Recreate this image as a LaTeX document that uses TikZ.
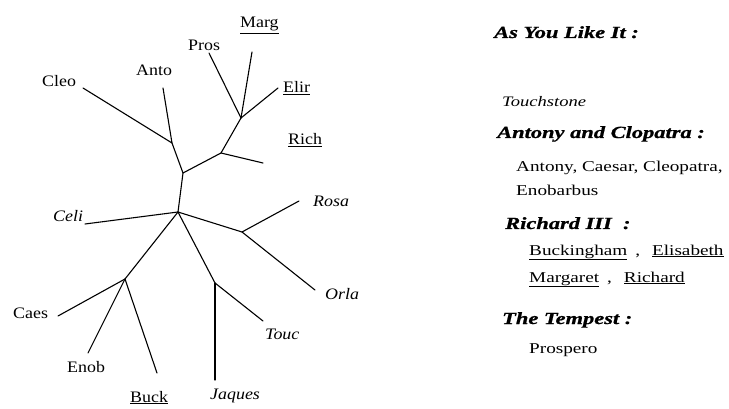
\documentclass[tikz,border=0pt]{standalone}
\usepackage{fontspec}
\setmainfont{Liberation Serif}
\newfontfamily\treefont[FakeStretch=1.12]{Liberation Serif}
\newfontfamily\widefont[FakeStretch=1.28]{Liberation Serif}
\newfontfamily\headfont[FakeStretch=1.32,FakeBold=1]{Liberation Serif}
\begin{document}
\begin{tikzpicture}[x=1pt,y=-1pt,
  lbl/.style={anchor=base west, inner sep=0pt, font=\treefont\fontsize{16}{18}\selectfont},
  ilbl/.style={anchor=base west, inner sep=0pt, font=\treefont\fontsize{16}{18}\selectfont\itshape},
  edge/.style={line width=1.1pt, line cap=round},
  head/.style={anchor=base west, inner sep=0pt, font=\headfont\fontsize{17}{20}\selectfont\bfseries\itshape},
  body/.style={anchor=base west, inner sep=0pt, font=\widefont\fontsize{15}{18}\selectfont},
  ibody/.style={anchor=base west, inner sep=0pt, font=\widefont\fontsize{14.5}{18}\selectfont\itshape}]
\useasboundingbox (0,0) rectangle (729,409);

% internal nodes
\coordinate (A) at (172,143);
\coordinate (B) at (183,173);
\coordinate (C) at (221,153);
\coordinate (D) at (241,118);
\coordinate (E) at (178,212);
\coordinate (F) at (242,232);
\coordinate (G) at (215,283);
\coordinate (H) at (125,279);
% leaf ends
\coordinate (cleo) at (83,88);
\coordinate (anto) at (163,88);
\coordinate (rich) at (263,163);
\coordinate (pros) at (209,53);
\coordinate (marg) at (252,52);
\coordinate (elir) at (278,88);
\coordinate (celi) at (85,224);
\coordinate (rosa) at (299,201);
\coordinate (orla) at (315,290);
\coordinate (touc) at (263,321);
\coordinate (jaq) at (215,380);
\coordinate (caes) at (58,316);
\coordinate (enob) at (88,353);
\coordinate (buck) at (157,373);

\draw[edge] (cleo) -- (A) -- (B);
\draw[edge] (anto) -- (A);
\draw[edge] (B) -- (C) -- (D);
\draw[edge] (C) -- (rich);
\draw[edge] (D) -- (pros);
\draw[edge] (D) -- (marg);
\draw[edge] (D) -- (elir);
\draw[edge] (B) -- (E);
\draw[edge] (E) -- (celi);
\draw[edge] (E) -- (F) -- (rosa);
\draw[edge] (F) -- (orla);
\draw[edge] (E) -- (G) -- (touc);
\draw[edge] (G) -- (jaq);
\draw[edge] (E) -- (H) -- (caes);
\draw[edge] (H) -- (enob);
\draw[edge] (H) -- (buck);

% tree labels
\node[lbl] (lcleo) at (42,87) {Cleo};
\node[lbl] (lanto) at (136,76) {Anto};
\node[lbl] (lpros) at (188,51) {Pros};
\node[lbl] (lmarg) at (240,28) {\underline{Marg}};
\node[lbl] (lelir) at (283,93) {\underline{Elir}};
\node[lbl] (lrich) at (288,145) {\underline{Rich}};
\node[ilbl] (lrosa) at (313,207) {Rosa};
\node[ilbl] (lceli) at (53,222) {Celi};
\node[ilbl] (lorla) at (325,299) {Orla};
\node[lbl] (lcaes) at (13,318) {Caes};
\node[ilbl] (ltouc) at (265,339) {Touc};
\node[lbl] (lenob) at (67,372) {Enob};
\node[lbl] (lbuck) at (130,402) {\underline{Buck}};
\node[ilbl] (ljaq) at (210,399) {Jaques};

% right legend
\node[head] (h1) at (494,38) {As You Like It :};
\node[ibody] (t1) at (502,107) {Touchstone};
\node[head] (h2) at (497,138) {Antony and Clopatra :};
\node[body] (t2a) at (516,172) {Antony, Caesar, Cleopatra,};
\node[body] (t2b) at (516,196) {Enobarbus};
\node[head] (h3) at (505,229) {Richard III \ :};
\node[body] (t3a) at (529,255) {\underline{Buckingham}\hspace{8pt},\hspace{12pt}\underline{Elisabeth}};
\node[body] (t3b) at (529,282) {\underline{Margaret}\hspace{8pt},\hspace{12pt}\underline{Richard}};
\node[head] (h4) at (502,324) {The Tempest :};
\node[body] (t4) at (529,353) {Prospero};
\end{tikzpicture}
\end{document}
